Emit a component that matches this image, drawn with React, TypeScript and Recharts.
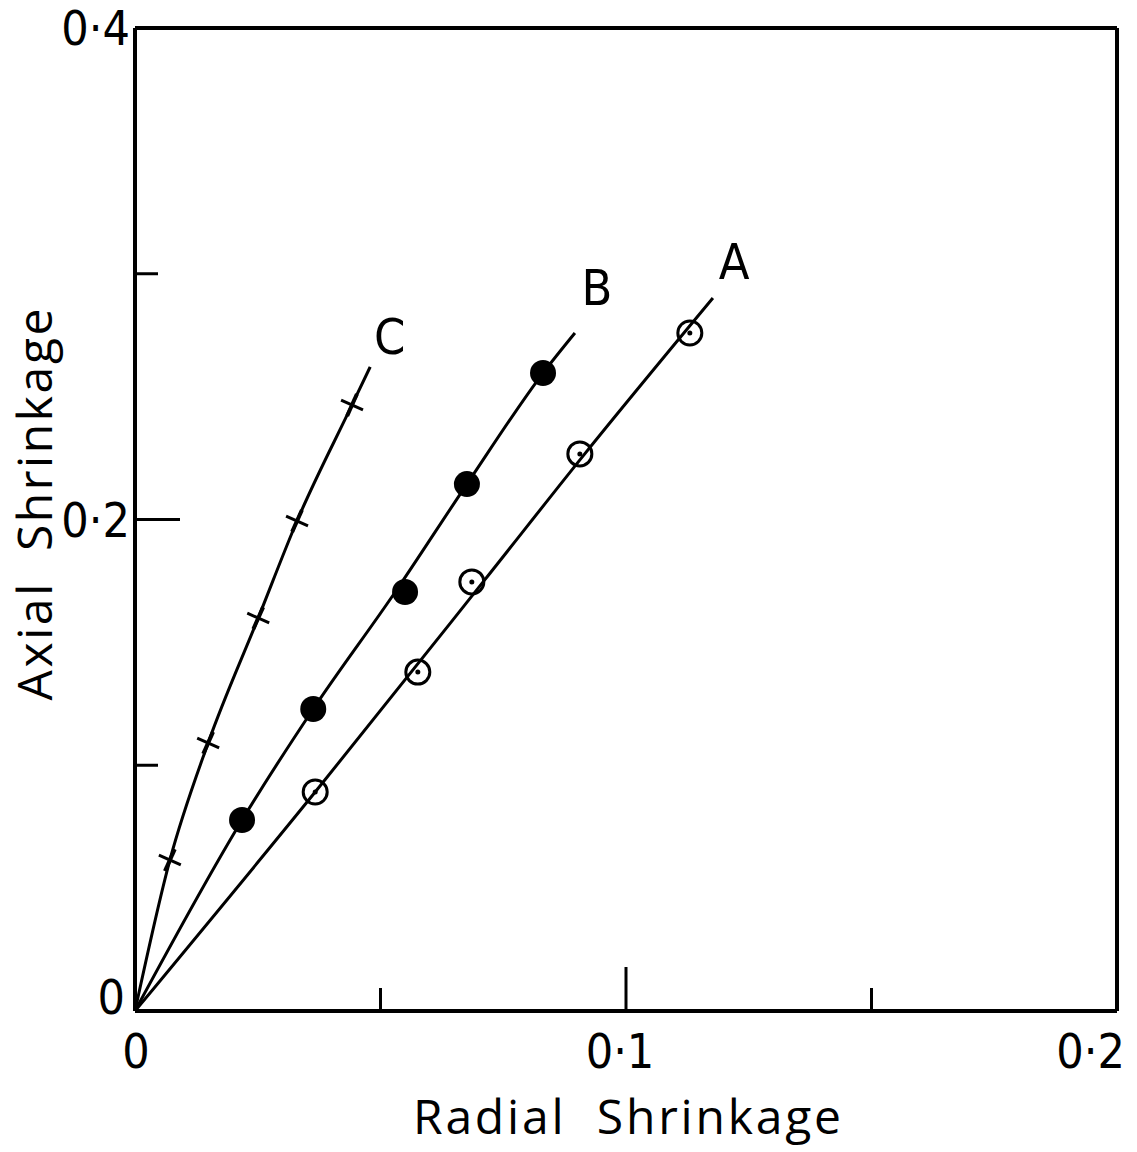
import React from 'react';
import { ComposedChart, Line, Scatter, XAxis, YAxis, ReferenceLine } from 'recharts';

// ---- data ----
const xTickValues = [0, 0.05, 0.1, 0.15, 0.2];
const xTickLabels = ['0', '', '0·1', '', '0·2'];
const yTickValues = [0, 0.1, 0.2, 0.3, 0.4];
const yTickLabels = ['0', '', '0·2', '', '0·4'];

// measured points
const pointsA = [
  { x: 0.0367, y: 0.0891 },
  { x: 0.0576, y: 0.1379 },
  { x: 0.0686, y: 0.1746 },
  { x: 0.0906, y: 0.2267 },
  { x: 0.113, y: 0.2759 },
];
const pointsB = [
  { x: 0.0218, y: 0.0777 },
  { x: 0.0363, y: 0.1229 },
  { x: 0.055, y: 0.1705 },
  { x: 0.0676, y: 0.2144 },
  { x: 0.0831, y: 0.2596 },
];
const pointsC = [
  { x: 0.0071, y: 0.0614 },
  { x: 0.0149, y: 0.1091 },
  { x: 0.0251, y: 0.1599 },
  { x: 0.033, y: 0.1994 },
  { x: 0.0442, y: 0.2466 },
];

// drawn curves (through origin)
const curveA = [
  { x: 0, y: 0 },
  { x: 0.0367, y: 0.0891 },
  { x: 0.0709, y: 0.1746 },
  { x: 0.0916, y: 0.2267 },
  { x: 0.1177, y: 0.2901 },
];
const curveB = [
  { x: 0, y: 0 },
  { x: 0.0218, y: 0.0777 },
  { x: 0.0363, y: 0.1229 },
  { x: 0.053, y: 0.1705 },
  { x: 0.0676, y: 0.2144 },
  { x: 0.0831, y: 0.2596 },
  { x: 0.0896, y: 0.2759 },
];
const curveC = [
  { x: 0, y: 0 },
  { x: 0.0071, y: 0.0614 },
  { x: 0.0149, y: 0.1091 },
  { x: 0.0251, y: 0.1599 },
  { x: 0.033, y: 0.1994 },
  { x: 0.0442, y: 0.2466 },
  { x: 0.0479, y: 0.2621 },
];

const curveLabels = [
  { x: 0.122, y: 0.3053, name: 'A' },
  { x: 0.0941, y: 0.2947, name: 'B' },
  { x: 0.0519, y: 0.2748, name: 'C' },
];

const TICK_FONT = '"Liberation Sans Narrow", "DejaVu Sans Condensed", "Liberation Sans", sans-serif';
const TITLE_FONT = '"Open Sans", "DejaVu Sans", sans-serif';

const near = (a: number, b: number) => Math.abs(a - b) < 1e-9;

const XTick = (props: any) => {
  const { x, y, payload } = props;
  const v = payload.value;
  const i = xTickValues.findIndex((t) => near(t, v));
  const label = i >= 0 ? xTickLabels[i] : '';
  const len = near(v, 0.1) ? 44 : near(v, 0.05) || near(v, 0.15) ? 23 : 0;
  let anchor: any = 'middle';
  let dx = 0;
  if (near(v, 0.2)) { anchor = 'end'; dx = 8; }
  else if (near(v, 0.1)) { dx = -6; }
  else if (near(v, 0)) { dx = 1; }
  return (
    <g>
      {len > 0 && <line x1={x} y1={y} x2={x} y2={y - len} stroke="#000" strokeWidth={3} />}
      {label && (
        <text x={x + dx} y={y + 57} textAnchor={anchor} fontFamily={TICK_FONT} fontSize={48} fill="#000">
          {label}
        </text>
      )}
    </g>
  );
};

const YTick = (props: any) => {
  const { x, y, payload } = props;
  const v = payload.value;
  const i = yTickValues.findIndex((t) => near(t, v));
  const label = i >= 0 ? yTickLabels[i] : '';
  const len = near(v, 0.2) ? 45 : near(v, 0.1) || near(v, 0.3) ? 23 : 0;
  const isZero = near(v, 0);
  return (
    <g>
      {len > 0 && <line x1={x} y1={y} x2={x + len} y2={y} stroke="#000" strokeWidth={3} />}
      {label && (
        <text x={x - (isZero ? 10 : 5)} y={y + (isZero ? 3 : 17)} textAnchor="end" fontFamily={TICK_FONT} fontSize={48} fill="#000">
          {label}
        </text>
      )}
    </g>
  );
};

const OpenDot = (props: any) => {
  const { cx, cy } = props;
  return (
    <g>
      <circle cx={cx} cy={cy} r={12} fill="none" stroke="#000" strokeWidth={3} />
      <circle cx={cx} cy={cy} r={2.5} fill="#000" />
    </g>
  );
};

const FilledDot = (props: any) => {
  const { cx, cy } = props;
  return <circle cx={cx} cy={cy} r={13} fill="#000" />;
};

const Cross = (props: any) => {
  const { cx, cy } = props;
  const th = (66 * Math.PI) / 180;
  const ax = Math.cos(th), ay = -Math.sin(th);
  const px = Math.sin(th), py = Math.cos(th);
  const L = 12;
  return (
    <g stroke="#000" strokeWidth={3}>
      <line x1={cx - px * L} y1={cy - py * L} x2={cx + px * L} y2={cy + py * L} />
      <line x1={cx - ax * L} y1={cy - ay * L} x2={cx + ax * L} y2={cy + ay * L} strokeWidth={4} />
    </g>
  );
};

const LetterShape = (props: any) => {
  const { cx, cy, payload } = props;
  return (
    <text x={cx} y={cy + 18} textAnchor="middle" fontFamily={TICK_FONT} fontSize={50} fill="#000">
      {payload.name}
    </text>
  );
};

const YTitle = (props: any) => {
  const vb = props.viewBox || {};
  const cx = 52;
  const cy = (vb.y ?? 28) + (vb.height ?? 983) / 2 - 15;
  return (
    <text x={cx} y={cy} transform={`rotate(-90, ${cx}, ${cy})`} textAnchor="middle" fontFamily={TITLE_FONT} fontSize={48} textLength={392} lengthAdjust="spacing" fill="#000">
      Axial{'\u00a0\u00a0'}Shrinkage
    </text>
  );
};

const XTitle = () => {
  return (
    <text x={627} y={1134} textAnchor="middle" fontFamily={TITLE_FONT} fontSize={48} textLength={428} lengthAdjust="spacing" fill="#000">
      Radial{'\u00a0\u00a0'}Shrinkage
    </text>
  );
};

export default function App() {
  return (
    <div style={{ position: 'absolute', left: 0, top: 0, background: '#fff' }}>
      <ComposedChart
        width={1137}
        height={1152}
        margin={{ top: 28, right: 20, bottom: 81, left: 75 }}
      >
        <XAxis
          type="number"
          dataKey="x"
          domain={[0, 0.2]}
          ticks={xTickValues}
          allowDataOverflow
          height={60}
          tickSize={0}
          tickMargin={0}
          tickLine={false}
          tick={<XTick />}
          axisLine={{ stroke: '#000', strokeWidth: 4 }}
          interval={0}
          label={<XTitle />}
        />
        <YAxis
          type="number"
          dataKey="y"
          domain={[0, 0.4]}
          ticks={yTickValues}
          allowDataOverflow
          width={60}
          tickSize={0}
          tickMargin={0}
          tickLine={false}
          tick={<YTick />}
          axisLine={{ stroke: '#000', strokeWidth: 4 }}
          interval={0}
          label={<YTitle />}
        />
        <ReferenceLine y={0.4} stroke="#000" strokeWidth={4} />
        <ReferenceLine x={0.2} stroke="#000" strokeWidth={4} />
        <Line data={curveA} dataKey="y" type="monotone" stroke="#000" strokeWidth={3} dot={false} activeDot={false} isAnimationActive={false} />
        <Line data={curveB} dataKey="y" type="monotone" stroke="#000" strokeWidth={3} dot={false} activeDot={false} isAnimationActive={false} />
        <Line data={curveC} dataKey="y" type="monotone" stroke="#000" strokeWidth={3} dot={false} activeDot={false} isAnimationActive={false} />
        <Scatter data={pointsA} dataKey="y" shape={<OpenDot />} isAnimationActive={false} />
        <Scatter data={pointsB} dataKey="y" shape={<FilledDot />} isAnimationActive={false} />
        <Scatter data={pointsC} dataKey="y" shape={<Cross />} isAnimationActive={false} />
        <Scatter data={curveLabels} dataKey="y" shape={<LetterShape />} isAnimationActive={false} />
      </ComposedChart>
    </div>
  );
}
